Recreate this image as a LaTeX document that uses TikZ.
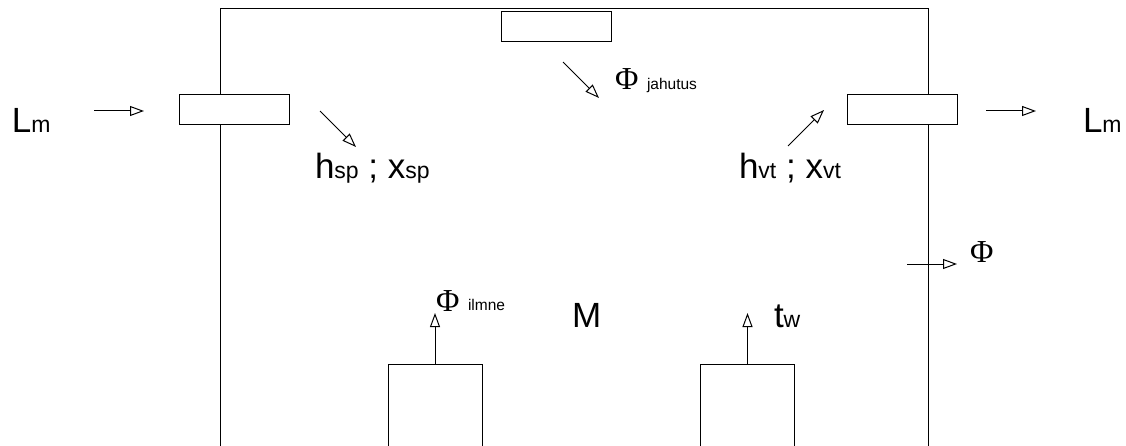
\documentclass[tikz,border=0pt]{standalone}
\usepackage{fontspec}
\setmainfont{Liberation Sans}
\newfontfamily\phifont{Liberation Serif}
\usetikzlibrary{arrows.meta}
\begin{document}
\begin{tikzpicture}[x=1pt,y=-1pt,line width=1pt,
  valve/.style={draw,fill=white,minimum width=110pt,minimum height=30pt,inner sep=0pt,outer sep=0pt},
  heater/.style={draw,fill=white,minimum width=94pt,minimum height=100pt,inner sep=0pt,outer sep=0pt},
  flow/.style={-{Triangle[open,length=14pt,width=10pt]}},
  big/.style={font=\fontsize{35}{40}\selectfont,inner sep=0pt,outer sep=0pt,anchor=base west},
  phi/.style={font=\phifont\fontsize{32}{36}\selectfont,inner sep=0pt,outer sep=0pt,anchor=base west},
  small/.style={font=\fontsize{15.5}{18}\selectfont,inner sep=0pt,outer sep=0pt,anchor=base west}]
\useasboundingbox (0,0) rectangle (1126,446);
% chamber walls
\draw (220,460) -- (220,9) -- (928,9) -- (928,460);
% valves
\node[valve] (vin) at (234,110) {};
\node[valve] (vout) at (902,110) {};
\node[valve] (vtop) at (556,27) {};
% heaters at bottom
\node[heater] (hl) at (435,414) {};
\node[heater] (hr) at (747.5,414) {};
% labels
\node[big] (lmin) at (12,133) {L\fontsize{23}{26}\selectfont m};
\node[big] (lmout) at (1083,133) {L\fontsize{23}{26}\selectfont m};
\node[big] (hsp) at (315,179) {h\fontsize{23}{26}\selectfont sp\fontsize{35}{40}\selectfont{} ; x\fontsize{23}{26}\selectfont sp};
\node[big] (hvt) at (739,179) {h\fontsize{23}{26}\selectfont vt\fontsize{35}{40}\selectfont{} ; x\fontsize{23}{26}\selectfont vt};
\node[big] (m) at (572,327) {M};
\node[big] (tw) at (774,327) {t\fontsize{23}{26}\selectfont w};
\node[phi] (phij) at (615,90) {Φ};
\node[small] (jah) at (647,90) {jahutus};
\node[phi] (phi) at (970,262) {Φ};
\node[phi] (phii) at (436,311) {Φ};
\node[small] (ilm) at (468,310) {ilmne};
% arrow coordinates
\coordinate (a1s) at (94,111);   \coordinate (a1e) at (144,111);
\coordinate (a2s) at (986,111);  \coordinate (a2e) at (1036,111);
\coordinate (a3s) at (320,111);  \coordinate (a3e) at (356,147);
\coordinate (a4s) at (788,146);  \coordinate (a4e) at (824,110);
\coordinate (a5s) at (563,62);   \coordinate (a5e) at (599,98);
\coordinate (a6s) at (907,264);  \coordinate (a6e) at (957,264);
\coordinate (a7e) at (435,313);
\coordinate (a8e) at (747.5,313);
% arrows
\draw[flow] (a1s) -- (a1e);
\draw[flow] (a2s) -- (a2e);
\draw[flow] (a3s) -- (a3e);
\draw[flow] (a4s) -- (a4e);
\draw[flow] (a5s) -- (a5e);
\draw[flow] (a6s) -- (a6e);
\draw[flow] (hl.north) -- (a7e);
\draw[flow] (hr.north) -- (a8e);
\end{tikzpicture}
\end{document}
